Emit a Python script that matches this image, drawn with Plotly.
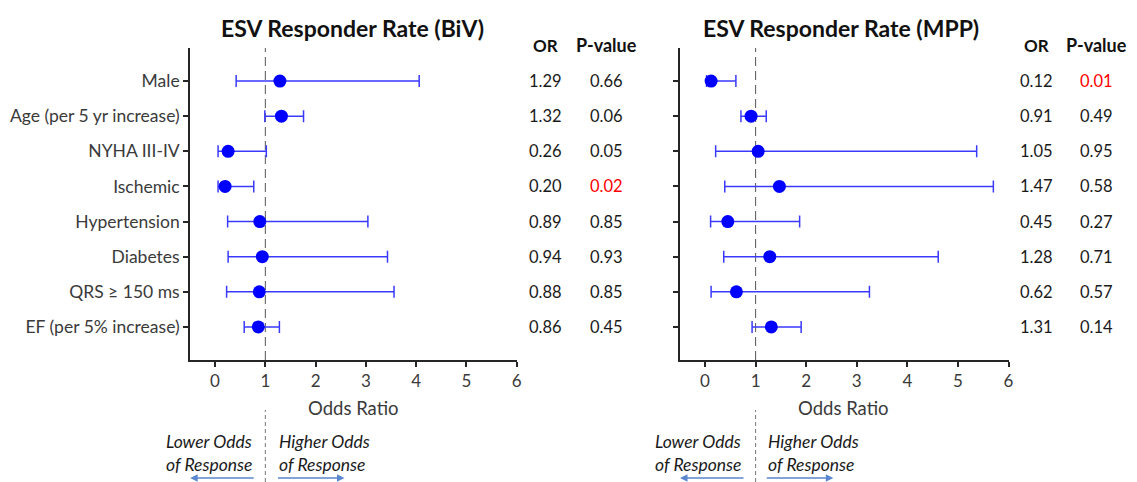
import plotly.graph_objects as go

# ---------------- data ----------------
labels = ["Male", "Age (per 5 yr increase)", "NYHA III-IV", "Ischemic",
          "Hypertension", "Diabetes", "QRS \u2265 150 ms", "EF (per 5% increase)"]
rows = [8, 7, 6, 5, 4, 3, 2, 1]

biv_or = [1.29, 1.32, 0.26, 0.20, 0.89, 0.94, 0.88, 0.86]
biv_lo = [0.42, 0.99, 0.06, 0.06, 0.25, 0.26, 0.23, 0.58]
biv_hi = [4.06, 1.76, 1.02, 0.77, 3.04, 3.43, 3.56, 1.28]
biv_p = ["0.66", "0.06", "0.05", "0.02", "0.85", "0.93", "0.85", "0.45"]

mpp_or = [0.12, 0.91, 1.05, 1.47, 0.45, 1.28, 0.62, 1.31]
mpp_lo = [0.03, 0.71, 0.21, 0.39, 0.11, 0.37, 0.12, 0.93]
mpp_hi = [0.61, 1.21, 5.37, 5.70, 1.87, 4.61, 3.25, 1.90]
mpp_p = ["0.01", "0.49", "0.95", "0.58", "0.27", "0.71", "0.57", "0.14"]

x_ticks = [0, 1, 2, 3, 4, 5, 6]
titles = ["ESV Responder Rate (BiV)", "ESV Responder Rate (MPP)"]

# ---------------- layout helpers ----------------
W, H = 1137, 482
def px(x):
    return x / W
def py(y):
    return 1 - y / H

FONT = "Lato, 'Open Sans', sans-serif"
AXC = "#262626"
TXT = "#3a3a3a"
BLUE = "#0000FF"
EBLUE = "#3a3aff"

fig = go.Figure()

panels = [
    dict(orv=biv_or, lo=biv_lo, hi=biv_hi, p=biv_p, xa="x", ya="y",
         left=191, right=519, title_x=354, or_x=548, p_x=609,
         low_r=255, high_l=278),
    dict(orv=mpp_or, lo=mpp_lo, hi=mpp_hi, p=mpp_p, xa="x2", ya="y2",
         left=683, right=1011, title_x=845, or_x=1041, p_x=1101,
         low_r=746, high_l=769),
]

annotations = []
shapes = []

for i, pn in enumerate(panels):
    plus = [h - o for h, o in zip(pn["hi"], pn["orv"])]
    minus = [o - l for o, l in zip(pn["orv"], pn["lo"])]
    fig.add_trace(go.Scatter(
        x=pn["orv"], y=rows, mode="markers", xaxis=pn["xa"], yaxis=pn["ya"],
        marker=dict(size=13, color=BLUE),
        error_x=dict(type="data", symmetric=False, array=plus, arrayminus=minus,
                     color=EBLUE, thickness=1.5, width=6),
        showlegend=False, hoverinfo="skip",
    ))
    xref = pn["xa"]
    yref = pn["ya"]
    # dashed reference line at OR = 1 (inside plot)
    shapes.append(dict(type="line", xref=xref, yref=yref, x0=1, x1=1, y0=0.06, y1=8.94,
                       line=dict(color="#555555", width=1, dash="9px,5px"), layer="below"))
    # dashed continuation below axis
    shapes.append(dict(type="line", xref=xref, yref="paper", x0=1, x1=1,
                       y0=0, y1=py(410),
                       line=dict(color="#777777", width=1, dash="4px,3px")))
    # title
    annotations.append(dict(text="<b>%s</b>" % titles[i], xref="paper", yref="paper",
                            x=px(pn["title_x"]), y=py(28), showarrow=False,
                            xanchor="center", yanchor="middle",
                            font=dict(family=FONT, size=23, color="#111111")))
    # headers
    annotations.append(dict(text="<b>OR</b>", xref="paper", yref="paper",
                            x=px(pn["or_x"]), y=py(45), showarrow=False,
                            xanchor="center", yanchor="middle",
                            font=dict(family=FONT, size=17, color="#111111")))
    annotations.append(dict(text="<b>P-value</b>", xref="paper", yref="paper",
                            x=px(pn["p_x"]), y=py(45), showarrow=False,
                            xanchor="center", yanchor="middle",
                            font=dict(family=FONT, size=18, color="#111111")))
    for r, o, p in zip(rows, pn["orv"], pn["p"]):
        annotations.append(dict(text="%.2f" % o, xref="paper", yref=yref,
                                x=px(pn["or_x"]), y=r, showarrow=False,
                                xanchor="center", yanchor="middle",
                                font=dict(family=FONT, size=16.5, color="#1a1a1a")))
        pc = "#FF0000" if float(p) < 0.05 else "#1a1a1a"
        annotations.append(dict(text=p, xref="paper", yref=yref,
                                x=px(pn["p_x"]), y=r, showarrow=False,
                                xanchor="center", yanchor="middle",
                                font=dict(family=FONT, size=16.5, color=pc)))
    # axis title
    annotations.append(dict(text="Odds Ratio", xref="paper", yref="paper",
                            x=px((pn["left"] + pn["right"]) / 2), y=py(408),
                            showarrow=False, xanchor="center", yanchor="middle",
                            font=dict(family=FONT, size=18.5, color=TXT)))
    # direction texts
    for txt, yy in [("Lower Odds", 441), ("of Response", 464)]:
        annotations.append(dict(text="<i>%s</i>" % txt, xref="paper", yref="paper",
                                x=px(pn["low_r"]), y=py(yy), showarrow=False,
                                xanchor="right", yanchor="middle",
                                font=dict(family=FONT, size=17.5, color="#1a1a1a")))
    for txt, yy in [("Higher Odds", 441), ("of Response", 464)]:
        annotations.append(dict(text="<i>%s</i>" % txt, xref="paper", yref="paper",
                                x=px(pn["high_l"]), y=py(yy), showarrow=False,
                                xanchor="left", yanchor="middle",
                                font=dict(family=FONT, size=17.5, color="#1a1a1a")))
    # arrows
    annotations.append(dict(text="", xref="paper", yref="paper",
                            x=px(pn["left"]), y=py(478), ax=65, ay=0,
                            showarrow=True, arrowhead=2, arrowsize=1, arrowwidth=1.5,
                            arrowcolor="#5b87d0"))
    annotations.append(dict(text="", xref="paper", yref="paper",
                            x=px(pn["high_l"] + 68), y=py(478), ax=-68, ay=0,
                            showarrow=True, arrowhead=2, arrowsize=1, arrowwidth=1.5,
                            arrowcolor="#5b87d0"))

xaxis_common = dict(range=[-0.495, 6], tickvals=x_ticks, ticks="outside", ticklen=5,
                    tickwidth=1.5, tickcolor=AXC, showline=True, linecolor=AXC,
                    linewidth=2, showgrid=False, zeroline=False,
                    tickfont=dict(family=FONT, size=17, color=TXT), fixedrange=True)
yaxis_common = dict(range=[0.06, 8.94], tickvals=rows, ticks="outside", ticklen=5,
                    tickwidth=1.5, tickcolor=AXC, showline=True, linecolor=AXC,
                    linewidth=2, showgrid=False, zeroline=False,
                    tickfont=dict(family=FONT, size=17.5, color=TXT), fixedrange=True,
                    domain=[py(360), py(48)])

fig.update_layout(
    width=W, height=H,
    margin=dict(l=0, r=0, t=0, b=0),
    paper_bgcolor="white", plot_bgcolor="white",
    xaxis=dict(xaxis_common, domain=[px(191), px(519)], anchor="y"),
    yaxis=dict(yaxis_common, ticktext=labels, anchor="x"),
    xaxis2=dict(xaxis_common, domain=[px(683), px(1013)], anchor="y2"),
    yaxis2=dict(yaxis_common, ticktext=[""] * len(rows), anchor="x2"),
    annotations=annotations,
    shapes=shapes,
    font=dict(family=FONT),
)

fig.write_html(
    "out.html",
    config={"displayModeBar": False},
    post_script="document.body.style.margin='0';document.body.style.overflow='hidden';"
                "document.documentElement.style.overflow='hidden';",
)
